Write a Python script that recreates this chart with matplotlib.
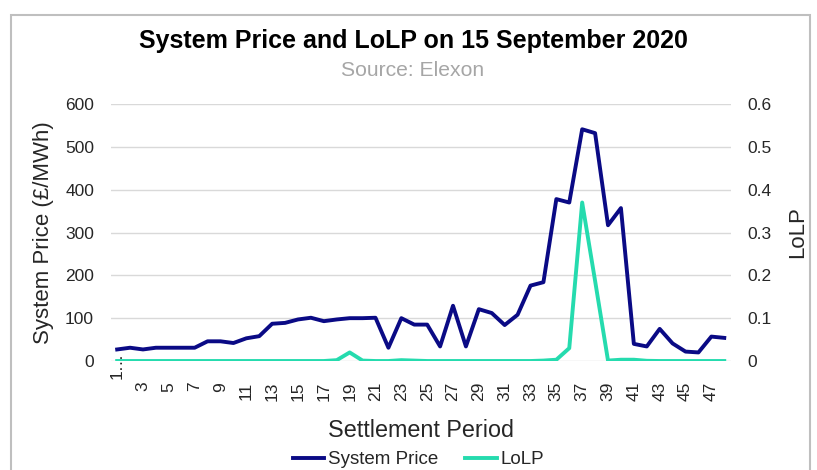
import matplotlib.pyplot as plt
from matplotlib.patches import Rectangle
from matplotlib.transforms import ScaledTranslation

plt.rcParams['font.family'] = ['Liberation Sans', 'DejaVu Sans']

# settlement periods 1..48
periods = [1, 2, 3, 4, 5, 6, 7, 8, 9, 10, 11, 12, 13, 14, 15, 16,
           17, 18, 19, 20, 21, 22, 23, 24, 25, 26, 27, 28, 29, 30, 31, 32,
           33, 34, 35, 36, 37, 38, 39, 40, 41, 42, 43, 44, 45, 46, 47, 48]

# system price, GBP/MWh
price = [27, 31, 27, 31, 31, 31, 31, 46, 46, 42, 53, 58, 87, 89, 97, 101,
         93, 97, 100, 100, 101, 31, 100, 85, 85, 34, 129, 34, 121, 112, 84, 108,
         176, 184, 378, 370, 541, 532, 317, 357, 40, 34, 75, 41, 22, 20, 57, 54]

# loss of load probability
lolp = [0, 0, 0, 0, 0, 0, 0, 0, 0, 0, 0, 0, 0, 0, 0, 0,
        0, 0.002, 0.02, 0.001, 0, 0, 0.002, 0.001, 0, 0, 0, 0, 0, 0, 0, 0,
        0, 0.001, 0.003, 0.03, 0.37, 0.187, 0.001, 0.003, 0.003, 0.0005, 0, 0, 0, 0, 0, 0]

price_ticks = [0, 100, 200, 300, 400, 500, 600]
lolp_ticks = [0, 0.1, 0.2, 0.3, 0.4, 0.5, 0.6]
lolp_labels = ['0', '0.1', '0.2', '0.3', '0.4', '0.5', '0.6']
x_ticks = periods[::2]
x_labels = ['1…'] + [str(p) for p in x_ticks[1:]]

navy = '#0a0a85'
teal = '#25dbae'
txt = '#262626'

fig = plt.figure(figsize=(8.17, 4.70), dpi=100)
ax = fig.add_axes([0.1355, 0.2319, 0.7589, 0.5468])
ax2 = ax.twinx()

# outer chart border
fig.patches.append(Rectangle((0.0135, -0.05), 0.978, 1.018, transform=fig.transFigure,
                             fill=False, edgecolor='#bfbfbf', linewidth=1.5))

ax.plot(periods, price, color=navy, lw=2.8, label='System Price', zorder=3)
ax2.plot(periods, lolp, color=teal, lw=2.8, label='LoLP', zorder=3)

ax.set_xlim(0.5, 48.5)
ax.set_ylim(0, 600)
ax2.set_ylim(0, 0.6)
ax.set_yticks(price_ticks)
ax.set_yticklabels([str(t) for t in price_ticks])
ax2.set_yticks(lolp_ticks)
ax2.set_yticklabels(lolp_labels)
ax.set_xticks(x_ticks)
ax.set_xticklabels(x_labels, rotation=90, va='top', ha='center')

ax.grid(axis='y', color='#d9d9d9', lw=1)
ax.set_axisbelow(True)
for a in (ax, ax2):
    for s in a.spines.values():
        s.set_visible(False)
    a.tick_params(length=0, labelsize=12.5, labelcolor=txt)
ax.tick_params(axis='y', pad=12)
ax2.tick_params(axis='y', pad=12)
ax.tick_params(axis='x', pad=15)

# excel puts the truncated first label higher up
lab0 = ax.get_xticklabels()[0]
lab0.set_transform(lab0.get_transform() + ScaledTranslation(0, 0.3, fig.dpi_scale_trans))

ax.set_xlabel('Settlement Period', fontsize=16.8, color=txt, labelpad=13)
ax.set_ylabel('System Price (£/MWh)', fontsize=16, color=txt, labelpad=8)
ax2.set_ylabel('LoLP', fontsize=16, color=txt, labelpad=11)

fig.text(0.506, 0.912, 'System Price and LoLP on 15 September 2020', ha='center',
         va='center', fontsize=18, fontweight='bold', color='black')
fig.text(0.505, 0.851, 'Source: Elexon', ha='center', va='center', fontsize=15.2,
         color='#a6a6a6')

h1, l1 = ax.get_legend_handles_labels()
h2, l2 = ax2.get_legend_handles_labels()
fig.legend(h1 + h2, l1 + l2, loc='center', bbox_to_anchor=(0.512, 0.022), ncol=2,
           frameon=False, fontsize=13.5, handlelength=1.7, handletextpad=0.2,
           columnspacing=1.4, labelcolor=txt)

fig.savefig('out.png', dpi=100)
